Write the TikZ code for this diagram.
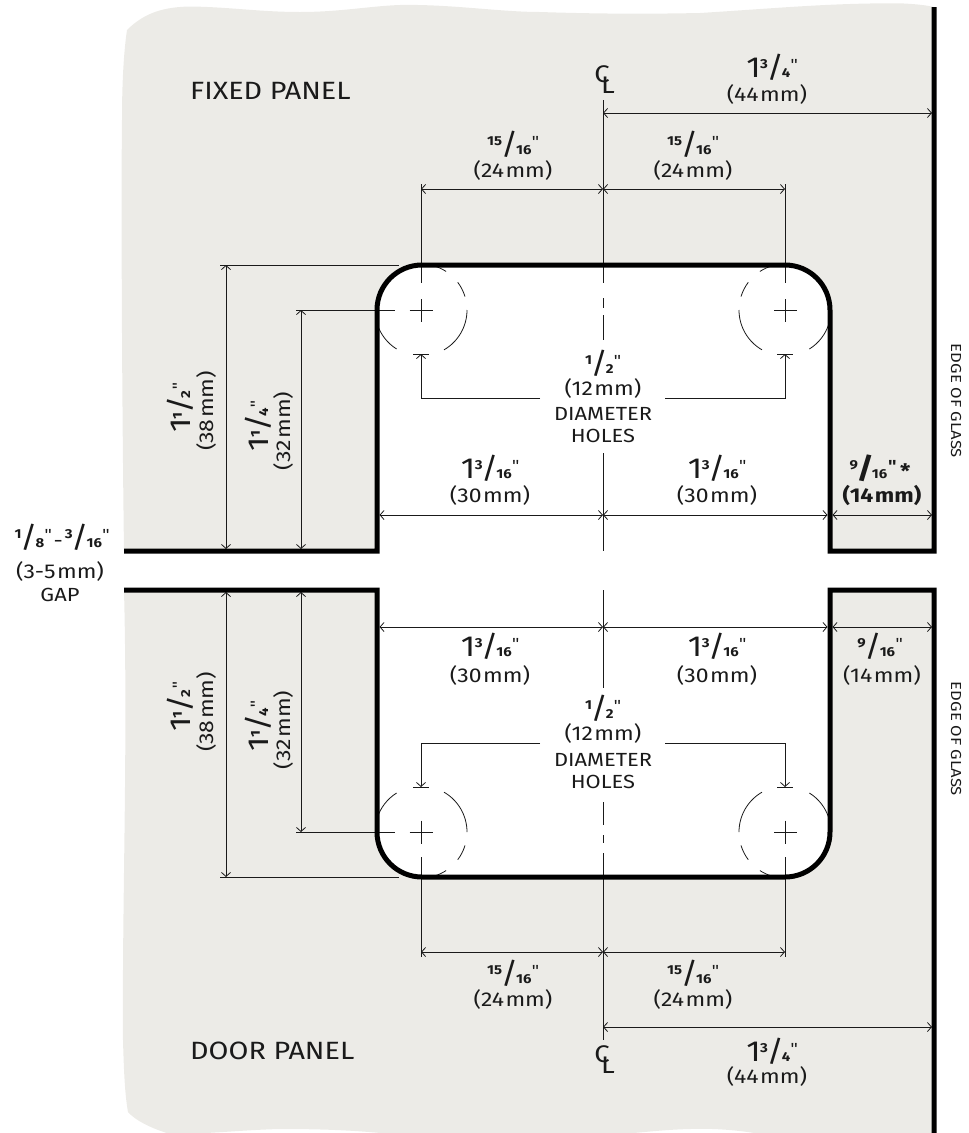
\documentclass[tikz,border=0pt]{standalone}
\usepackage{fontspec}
\setmainfont[FakeStretch=1.15]{Fira Sans}
\newfontfamily\quotefont{Liberation Sans}
\usetikzlibrary{arrows.meta}
\definecolor{panel}{HTML}{ECEBE7}
\definecolor{ink}{HTML}{1A1A1A}
\newcommand\whole[1]{{\fontsize{29}{29}\selectfont #1\kern-.5pt}}
\newcommand\frc[2]{\raisebox{.42em}{\fontsize{13}{10}\fontseries{b}\selectfont #1}\kern-.07em{\fontsize{29}{29}\selectfont /}\kern-.1em{\fontsize{13}{10}\fontseries{b}\selectfont #2}\kern.03em\raisebox{.22em}{\fontsize{19}{10}\quotefont\selectfont "}}
\newcommand\mmu{\kern1.5pt mm}
\tikzset{
  dimline/.style={draw=ink,line width=.8pt,{Straight Barb[length=4pt,width=9pt]}-{Straight Barb[length=4pt,width=9pt]}},
  leader/.style={draw=ink,line width=.8pt,-{Straight Barb[length=4pt,width=9pt]}},
  thin line/.style={draw=ink,line width=.8pt},
  edge line/.style={draw=black,line width=5pt,miter limit=10},
  lbl/.style={inner sep=0pt,text=ink,font=\fontsize{20}{22}\selectfont,align=center},
  small lbl/.style={inner sep=0pt,text=ink,font=\fontsize{19}{22}\selectfont,align=center},
  edge lbl/.style={inner sep=0pt,text=ink,font=\fontsize{14.5}{16}\selectfont,rotate=-90},
  panel lbl/.style={inner sep=0pt,text=ink,font=\fontsize{25}{27}\selectfont,anchor=west},
  cl lbl/.style={inner sep=0pt,text=ink,font=\fontsize{24}{26}\selectfont},
  hole/.pic={
    \draw[ink,line width=.8pt] (72:46pt) arc[start angle=72,end angle=57,radius=46pt];
    \draw[ink,line width=.8pt] (37:46pt) arc[start angle=37,end angle=17,radius=46pt];
    \draw[ink,line width=.8pt] (0:46pt) arc[start angle=0,end angle=-60,radius=46pt];
    \draw[ink,line width=.8pt] (-122:46pt) arc[start angle=-122,end angle=-163,radius=46pt];
    \draw[ink,line width=1pt] (-11.5pt,0)--(11.5pt,0) (0,-11.5pt)--(0,11.5pt);
  }
}
\begin{document}
\begin{tikzpicture}[x=1pt,y=1pt]
\useasboundingbox (0,0) rectangle (969,-1133);
\clip (0,0) rectangle (969,-1133);
% panels
\fill[panel] (124,-551) .. controls (122,-400) and (121,-200) .. (122,-120)
  .. controls (122,-80) and (124,-50) .. (127,-30)
  .. controls (145,-12) and (165,-7) .. (190,-6.5)
  .. controls (230,-7) and (260,-12) .. (300,-12)
  .. controls (340,-12) and (370,-6) .. (400,-5)
  .. controls (450,-4) and (500,-12) .. (540,-12)
  .. controls (600,-14) and (650,-14) .. (700,-13)
  .. controls (780,-8) and (830,-3) .. (900,-3.3)
  .. controls (915,-4) and (925,-5) .. (934,-7)
  -- (934,-551) -- (830,-551) -- (830,-310)
  arc[start angle=0,end angle=90,radius=45pt] -- (421,-265)
  arc[start angle=90,end angle=180,radius=45pt] -- (377,-551) -- cycle;
\fill[panel] (124,-590) -- (377,-590) -- (377,-832)
  arc[start angle=180,end angle=270,radius=45pt] -- (785,-877)
  arc[start angle=270,end angle=360,radius=45pt] -- (830,-590) -- (934,-590) -- (934,-1140)
  -- (780,-1138) .. controls (750,-1131) and (720,-1128) .. (690,-1129)
  .. controls (650,-1130) and (620,-1136) .. (560,-1138) -- (420,-1138)
  .. controls (370,-1130) and (320,-1129) .. (280,-1129)
  .. controls (240,-1130) and (210,-1134) .. (170,-1134)
  .. controls (150,-1128) and (135,-1120) .. (128,-1112)
  .. controls (125,-1095) and (124,-1075) .. (123,-1040)
  .. controls (122,-900) and (128,-750) .. (124,-590) -- cycle;
% key points
\coordinate (cTop) at (603,-100); \coordinate (cTa) at (603,-283);
\coordinate (cD1a) at (603,-298); \coordinate (cD1b) at (603,-308);
\coordinate (cD2a) at (603,-315); \coordinate (cD2b) at (603,-340);
\coordinate (cM1) at (603,-453); \coordinate (cM2) at (603,-551);
\coordinate (cM3) at (603,-590); \coordinate (cM4) at (603,-688);
\coordinate (cD3a) at (603,-802); \coordinate (cD3b) at (603,-825);
\coordinate (cD4a) at (603,-835); \coordinate (cD4b) at (603,-843);
\coordinate (cBa) at (603,-853); \coordinate (cBot) at (603,-1040);
% extension lines
\draw[thin line] (cTop) -- (cTa);
\draw[thin line] (cD1a) -- (cD1b) (cD2a) -- (cD2b) (cM1) -- (cM2) (cM3) -- (cM4) (cD3a) -- (cD3b) (cD4a) -- (cD4b);
\draw[thin line] (cBa) -- (cBot);
\coordinate (hTLt) at (421,-184); \coordinate (hTLb) at (421,-283);
\coordinate (hTRt) at (785,-184); \coordinate (hTRb) at (785,-283);
\draw[thin line] (hTLt) -- (hTLb); \draw[thin line] (hTRt) -- (hTRb);
\coordinate (hBLt) at (421,-857); \coordinate (hBLb) at (421,-957);
\coordinate (hBRt) at (785,-857); \coordinate (hBRb) at (785,-957);
\draw[thin line] (hBLt) -- (hBLb); \draw[thin line] (hBRt) -- (hBRb);
\coordinate (xA1) at (220,-265); \coordinate (xA2) at (399,-265);
\coordinate (xB1) at (296,-310); \coordinate (xB2) at (395,-310);
\coordinate (xC1) at (220,-877); \coordinate (xC2) at (399,-877);
\coordinate (xD1) at (296,-832); \coordinate (xD2) at (395,-832);
\draw[thin line] (xA1) -- (xA2); \draw[thin line] (xB1) -- (xB2);
\draw[thin line] (xC1) -- (xC2); \draw[thin line] (xD1) -- (xD2);
% dimension lines
\coordinate (a1) at (603,-113); \coordinate (a2) at (932,-113);
\draw[dimline] (a1) -- (a2);
\coordinate (b1) at (421,-189); \coordinate (b2) at (603,-189); \coordinate (b3) at (785,-189);
\draw[dimline] (b1) -- (b2); \draw[dimline] (b2) -- (b3);
\coordinate (c1) at (379.5,-515); \coordinate (c2) at (603,-515); \coordinate (c3) at (827.5,-515);
\coordinate (c4) at (832.5,-515); \coordinate (c5) at (932,-515);
\draw[dimline] (c1) -- (c2); \draw[dimline] (c2) -- (c3); \draw[dimline] (c4) -- (c5);
\coordinate (d1) at (379.5,-627); \coordinate (d2) at (603,-627); \coordinate (d3) at (827.5,-627);
\coordinate (d4) at (832.5,-627); \coordinate (d5) at (932,-627);
\draw[dimline] (d1) -- (d2); \draw[dimline] (d2) -- (d3); \draw[dimline] (d4) -- (d5);
\coordinate (e1) at (421,-952); \coordinate (e2) at (603,-952); \coordinate (e3) at (785,-952);
\draw[dimline] (e1) -- (e2); \draw[dimline] (e2) -- (e3);
\coordinate (f1) at (603,-1027); \coordinate (f2) at (932,-1027);
\draw[dimline] (f1) -- (f2);
\coordinate (v1a) at (226,-265); \coordinate (v1b) at (226,-549);
\coordinate (v2a) at (301,-310); \coordinate (v2b) at (301,-549);
\coordinate (v3a) at (226,-592); \coordinate (v3b) at (226,-877);
\coordinate (v4a) at (301,-592); \coordinate (v4b) at (301,-832);
\draw[dimline] (v1a) -- (v1b); \draw[dimline] (v2a) -- (v2b);
\draw[dimline] (v3a) -- (v3b); \draw[dimline] (v4a) -- (v4b);
% hole leaders
\coordinate (l1s) at (540,-398); \coordinate (l1c) at (421,-398); \coordinate (l1e) at (421,-354);
\coordinate (l2s) at (665,-398); \coordinate (l2c) at (785,-398); \coordinate (l2e) at (785,-354);
\coordinate (l3s) at (540,-743); \coordinate (l3c) at (421,-743); \coordinate (l3e) at (421,-787);
\coordinate (l4s) at (665,-743); \coordinate (l4c) at (785,-743); \coordinate (l4e) at (785,-787);
\draw[leader] (l1s) -- (l1c) -- (l1e); \draw[leader] (l2s) -- (l2c) -- (l2e);
\draw[leader] (l3s) -- (l3c) -- (l3e); \draw[leader] (l4s) -- (l4c) -- (l4e);
\draw[thin line] (413,-354) -- (429,-354) (777,-354) -- (793,-354) (413,-787) -- (429,-787) (777,-787) -- (793,-787);
% holes
\path pic at (421,-310) {hole};
\path pic[xscale=-1] at (785,-310) {hole};
\path pic[yscale=-1] at (421,-832) {hole};
\path pic[xscale=-1,yscale=-1] at (785,-832) {hole};
% glass edges
\coordinate (p1) at (124,-551); \coordinate (p2) at (377,-551); \coordinate (p3) at (830,-551); \coordinate (p4) at (934,-551); \coordinate (p5) at (934,-7);
\draw[edge line] (p1) -- (p2) -- (377,-310) arc[start angle=180,end angle=90,radius=45pt] -- (785,-265) arc[start angle=90,end angle=0,radius=45pt] -- (p3) -- (p4) -- (p5);
\coordinate (q1) at (124,-590); \coordinate (q2) at (377,-590); \coordinate (q3) at (830,-590); \coordinate (q4) at (934,-590); \coordinate (q5) at (934,-1133);
\draw[edge line] (q1) -- (q2) -- (377,-832) arc[start angle=180,end angle=270,radius=45pt] -- (785,-877) arc[start angle=270,end angle=360,radius=45pt] -- (q3) -- (q4) -- (q5);
% labels
\node[panel lbl] (fixed) at (190,-91) {FIXED PANEL};
\node[panel lbl] (door) at (190,-1051) {DOOR PANEL};
\node[cl lbl] (clC) at (602,-74) {C};
\node[cl lbl] (clL) at (608,-85) {L};
\node[cl lbl] (clC2) at (602,-1054) {C};
\node[cl lbl] (clL2) at (608,-1065) {L};
\node[lbl] (t1) at (772,-67) {\whole{1}\frc{3}{4}};
\node[lbl] (t2) at (767,-94) {(44\mmu)};
\node[lbl] (t3) at (513,-144) {\frc{15}{16}};
\node[lbl] (t4) at (513,-170) {(24\mmu)};
\node[lbl] (t5) at (693,-144) {\frc{15}{16}};
\node[lbl] (t6) at (693,-170) {(24\mmu)};
\node[lbl] (t7) at (603,-363) {\frc{1}{2}};
\node[lbl] (t8) at (603,-388) {(12\mmu)};
\node[small lbl] (t9) at (603,-414) {DIAMETER};
\node[small lbl] (t10) at (603,-436) {HOLES};
\node[lbl] (t11) at (490,-468) {\whole{1}\frc{3}{16}};
\node[lbl] (t12) at (490,-495) {(30\mmu)};
\node[lbl] (t13) at (717,-468) {\whole{1}\frc{3}{16}};
\node[lbl] (t14) at (717,-495) {(30\mmu)};
\node[lbl,font=\fontsize{20}{22}\bfseries] (t15) at (880,-468) {\frc{9}{16}\,*};
\node[lbl,font=\fontsize{20}{22}\bfseries] (t16) at (882,-495) {(14\mmu)};
\node[edge lbl] (t17) at (956,-401) {EDGE OF GLASS};
\node[edge lbl] (t18) at (956,-739) {EDGE OF GLASS};
\node[lbl] (g1) at (62,-537) {\frc{1}{8}\kern2pt-\kern2pt\frc{3}{16}};
\node[lbl] (g2) at (60,-571) {(3-5\mmu)};
\node[small lbl] (g3) at (60,-595) {GAP};
\node[lbl] (t19) at (490,-646) {\whole{1}\frc{3}{16}};
\node[lbl] (t20) at (490,-675) {(30\mmu)};
\node[lbl] (t21) at (717,-646) {\whole{1}\frc{3}{16}};
\node[lbl] (t22) at (717,-675) {(30\mmu)};
\node[lbl] (t23) at (880,-646) {\frc{9}{16}};
\node[lbl] (t24) at (882,-675) {(14\mmu)};
\node[lbl] (t25) at (603,-708) {\frc{1}{2}};
\node[lbl] (t26) at (603,-733) {(12\mmu)};
\node[small lbl] (t27) at (603,-760) {DIAMETER};
\node[small lbl] (t28) at (603,-782) {HOLES};
\node[lbl] (t29) at (513,-973) {\frc{15}{16}};
\node[lbl] (t30) at (513,-999) {(24\mmu)};
\node[lbl] (t31) at (693,-973) {\frc{15}{16}};
\node[lbl] (t32) at (693,-999) {(24\mmu)};
\node[lbl] (t33) at (772,-1051) {\whole{1}\frc{3}{4}};
\node[lbl] (t34) at (767,-1076) {(44\mmu)};
\node[lbl,rotate=90] (r1) at (180,-408) {\whole{1}\frc{1}{2}};
\node[lbl,rotate=90] (r2) at (206,-411) {(38\mmu)};
\node[lbl,rotate=90] (r3) at (258,-426) {\whole{1}\frc{1}{4}};
\node[lbl,rotate=90] (r4) at (283,-431) {(32\mmu)};
\node[lbl,rotate=90] (r5) at (180,-707) {\whole{1}\frc{1}{2}};
\node[lbl,rotate=90] (r6) at (206,-712) {(38\mmu)};
\node[lbl,rotate=90] (r7) at (258,-726) {\whole{1}\frc{1}{4}};
\node[lbl,rotate=90] (r8) at (283,-730) {(32\mmu)};
\end{tikzpicture}
\end{document}
